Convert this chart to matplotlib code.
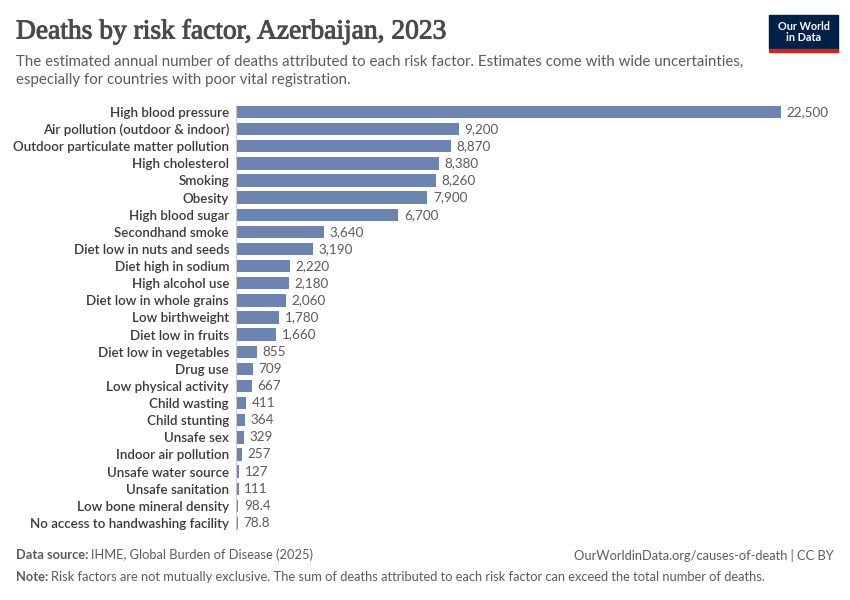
import numpy as np
import matplotlib.pyplot as plt
import matplotlib.patheffects as pe
from matplotlib.patches import Rectangle

# ======================data======================
factors = [
    "High blood pressure", "Air pollution (outdoor & indoor)",
    "Outdoor particulate matter pollution", "High cholesterol", "Smoking",
    "Obesity", "High blood sugar", "Secondhand smoke",
    "Diet low in nuts and seeds", "Diet high in sodium", "High alcohol use",
    "Diet low in whole grains", "Low birthweight", "Diet low in fruits",
    "Diet low in vegetables", "Drug use", "Low physical activity",
    "Child wasting", "Child stunting", "Unsafe sex", "Indoor air pollution",
    "Unsafe water source", "Unsafe sanitation", "Low bone mineral density",
    "No access to handwashing facility",
]
deaths = [22500, 9200, 8870, 8380, 8260, 7900, 6700, 3640, 3190, 2220, 2180,
          2060, 1780, 1660, 855, 709, 667, 411, 364, 329, 257, 127, 111, 98.4,
          78.8]
value_labels = ["22,500", "9,200", "8,870", "8,380", "8,260", "7,900", "6,700",
                "3,640", "3,190", "2,220", "2,180", "2,060", "1,780", "1,660",
                "855", "709", "667", "411", "364", "329", "257", "127", "111",
                "98.4", "78.8"]

# ======================figure======================
W, H = 850, 600
plt.rcParams['font.family'] = ['Lato', 'DejaVu Sans']
fig = plt.figure(figsize=(W / 100, H / 100), dpi=100)

ax = fig.add_axes([236 / W, 1 - 530 / H, 545 / W, 425 / H])
y = np.arange(len(factors))
ax.barh(y, deaths, height=0.72, color="#6d84b0", zorder=2)
ax.set_xlim(0, 22500)
ax.set_ylim(24 + 7 / 17.125, -7 / 17.125)

for yi, v, lab in zip(y, deaths, value_labels):
    ax.annotate(lab, (v, yi), xytext=(4, 0), textcoords="offset points",
                va="center", ha="left", fontsize=9.7, color="#5b5b5b")

ax.set_yticks(y)
ax.set_yticklabels(factors, fontsize=9.6, color="#3a3a3a", fontweight="semibold")
ax.tick_params(axis="y", length=0, pad=5)
ax.set_xticks([])
for s in ["top", "right", "bottom"]:
    ax.spines[s].set_visible(False)
ax.spines["left"].set_color("#cccccc")
ax.spines["left"].set_linewidth(0.8)

# ======================header======================
fig.text(16 / W, 1 - 32 / H, "Deaths by risk factor, Azerbaijan, 2023",
         family=["Liberation Serif", "DejaVu Serif"],
         fontsize=19.8, color="#4a4a4a", va="center", ha="left",
         path_effects=[pe.withStroke(linewidth=0.7, foreground="#4a4a4a")])
fig.text(16 / W, 1 - 62 / H,
         "The estimated annual number of deaths attributed to each risk factor. "
         "Estimates come with wide uncertainties,",
         fontsize=10.8, color="#5b5b5b", va="center", ha="left")
fig.text(16 / W, 1 - 80 / H, "especially for countries with poor vital registration.",
         fontsize=10.8, color="#5b5b5b", va="center", ha="left")

# logo
fig.patches.append(Rectangle((769 / W, 1 - 49 / H), 69 / W, 34 / H,
                             transform=fig.transFigure, color="#002147"))
fig.patches.append(Rectangle((769 / W, 1 - 52 / H), 69 / W, 3 / H,
                             transform=fig.transFigure, color="#ce261e"))
fig.text(803.5 / W, 1 - 32 / H, "Our World\nin Data", color="white",
         fontsize=7.8, fontweight="bold", ha="center", va="center",
         linespacing=1.05)

# ======================footer======================
t = fig.text(16 / W, 1 - 555 / H, "Data source:", fontsize=9.3,
             fontweight="bold", color="#5b5b5b", va="center", ha="left")
fig.canvas.draw()
bb = t.get_window_extent()
fig.text(bb.x1 / W + 3 / W, 1 - 555 / H, "IHME, Global Burden of Disease (2025)",
         fontsize=9.3, color="#5b5b5b", va="center", ha="left")
fig.text(834 / W, 1 - 555 / H, "OurWorldinData.org/causes-of-death | CC BY",
         fontsize=9.3, color="#5b5b5b", va="center", ha="right")
t2 = fig.text(16 / W, 1 - 577 / H, "Note:", fontsize=9.3, fontweight="bold",
              color="#5b5b5b", va="center", ha="left")
bb2 = t2.get_window_extent()
fig.text(bb2.x1 / W + 3 / W, 1 - 577 / H,
         "Risk factors are not mutually exclusive. The sum of deaths attributed "
         "to each risk factor can exceed the total number of deaths.",
         fontsize=9.3, color="#5b5b5b", va="center", ha="left")

fig.savefig("out.png", dpi=100)
